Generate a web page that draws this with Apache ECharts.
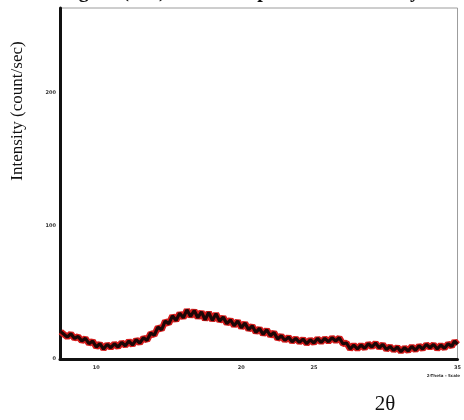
<!DOCTYPE html>
<html>
<head>
<meta charset="utf-8">
<script src="https://cdn.jsdelivr.net/npm/echarts@6/dist/echarts.min.js"></script>
<style>
  html, body { margin: 0; padding: 0; background: #fff; }
  #chart { width: 464px; height: 420px; }
</style>
</head>
<body>
<div id="chart"></div>
<script>
// 2-theta positions (deg)
const twoTheta = [
  7.55, 8.0, 8.25, 8.5, 8.75, 9.0, 9.25, 9.5, 9.75, 10.0,
  10.25, 10.5, 10.75, 11.0, 11.25, 11.5, 11.75, 12.0, 12.25, 12.5,
  12.75, 13.0, 13.25, 13.5, 13.75, 14.0, 14.25, 14.5, 14.75, 15.0,
  15.25, 15.5, 15.75, 16.0, 16.25, 16.5, 16.75, 17.0, 17.25, 17.5,
  17.75, 18.0, 18.25, 18.5, 18.75, 19.0, 19.25, 19.5, 19.75, 20.0,
  20.25, 20.5, 20.75, 21.0, 21.25, 21.5, 21.75, 22.0, 22.25, 22.5,
  22.75, 23.0, 23.25, 23.5, 23.75, 24.0, 24.25, 24.5, 24.75, 25.0,
  25.25, 25.5, 25.75, 26.0, 26.25, 26.5, 26.75, 27.0, 27.25, 27.5,
  27.75, 28.0, 28.25, 28.5, 28.75, 29.0, 29.25, 29.5, 29.75, 30.0,
  30.25, 30.5, 30.75, 31.0, 31.25, 31.5, 31.75, 32.0, 32.25, 32.5,
  32.75, 33.0, 33.25, 33.5, 33.75, 34.0, 34.25, 34.5, 34.7, 34.9
];
// intensity (count/sec)
const intensity = [
  20.5, 16.5, 19, 15.5, 17, 13.5, 15.5, 11.5, 13.5, 9,
  11.5, 7.5, 11, 8.5, 11.5, 9, 12.5, 10, 13.5, 10.5,
  14.5, 12, 16, 14, 19.5, 18, 24, 22, 28.5, 26.5,
  32.5, 29, 34.5, 31, 37, 32, 36.5, 31, 35.5, 29.5,
  35, 29, 34, 28.5, 31.5, 26.5, 29.5, 25, 28.5, 23.5,
  27, 22, 25, 20, 23, 18.5, 22, 17.5, 20, 15,
  17.5, 14, 16.5, 13, 15.5, 12.5, 15, 11.5, 14.5, 12,
  15.5, 12.5, 15.5, 13, 16, 13.5, 16, 11.5, 12, 7.5,
  10.5, 7.5, 10.5, 8, 11.5, 9, 12, 8.5, 11, 7,
  9.5, 6.5, 9, 5.5, 8.5, 6, 9.5, 6.5, 10, 7.5,
  11, 8.5, 11, 7.5, 10.5, 8, 11.5, 9.5, 13.5, 11
];
const yLabels = [0, 100, 200];
const xLabels = [10, 20, 25, 34.9];

const points = twoTheta.map((t, i) => [t, intensity[i]]);

const chart = echarts.init(document.getElementById('chart'), null, { renderer: 'canvas' });

chart.setOption({
  backgroundColor: '#fff',
  animation: false,
  grid: {
    left: 60, right: 4, top: 8, bottom: 61,
    show: true, borderColor: '#9c9c9c', borderWidth: 1
  },
  xAxis: {
    type: 'value',
    min: 7.5, max: 34.9,
    splitLine: { show: false },
    axisLine: { show: true, lineStyle: { color: '#111', width: 3 } },
    axisTick: { show: false },
    axisLabel: {
      customValues: xLabels,
      fontSize: 5, fontWeight: 'bold', margin: 6,
      fontFamily: 'DejaVu Sans',
      color: v => (v === 25 ? '#cfcfcf' : '#333'),
      formatter: v => Math.round(v)
    }
  },
  yAxis: {
    type: 'value',
    min: 0, max: 264,
    splitLine: { show: false },
    axisLine: { show: true, lineStyle: { color: '#111', width: 3 } },
    axisTick: { show: false },
    axisLabel: {
      customValues: yLabels,
      fontSize: 5, fontWeight: 'bold', margin: 4,
      fontFamily: 'DejaVu Sans', color: '#333'
    }
  },
  series: [
    {
      type: 'line', data: points, showSymbol: false,
      lineStyle: { color: '#d41c1c', width: 6.5 }, z: 2
    },
    {
      type: 'line', data: points, showSymbol: false,
      lineStyle: { color: '#1c0606', width: 3.2 }, z: 3
    }
  ],
  graphic: [
    {
      type: 'text', x: 61, y: 1.5,
      style: {
        text: 'Figure (10a) The XRD pattern of the alloy',
        font: 'bold 20px "Liberation Serif"', fill: '#111',
        align: 'left', verticalAlign: 'bottom'
      }
    },
    {
      type: 'text', x: 18, y: 111, rotation: Math.PI / 2,
      style: {
        text: 'Intensity (count/sec)',
        font: '17px "Liberation Serif"', fill: '#111',
        align: 'center', verticalAlign: 'middle'
      }
    },
    {
      type: 'text', x: 385, y: 404,
      style: {
        text: '2θ',
        font: '21px "Liberation Serif"', fill: '#111',
        align: 'center', verticalAlign: 'middle'
      }
    },
    {
      type: 'text', x: 460, y: 376,
      style: {
        text: '2-Theta - Scale',
        font: 'bold 4px "DejaVu Sans"', fill: '#333',
        align: 'right', verticalAlign: 'middle'
      }
    }
  ]
});
</script>
</body>
</html>
